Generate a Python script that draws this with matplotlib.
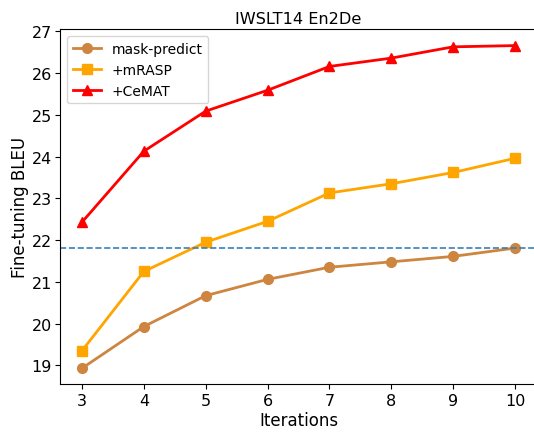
import matplotlib
matplotlib.use("Agg")
import matplotlib.pyplot as plt

# values
iterations = [3, 4, 5, 6, 7, 8, 9, 10]
mask_predict = [18.93, 19.93, 20.67, 21.06, 21.35, 21.48, 21.61, 21.81]
mrasp = [19.35, 21.25, 21.95, 22.45, 23.13, 23.35, 23.62, 23.96]
cemat = [22.43, 24.13, 25.09, 25.59, 26.16, 26.36, 26.63, 26.66]
baseline = 21.81

fig = plt.figure(figsize=(5.34, 4.35), dpi=100)
ax = fig.add_axes([0.113, 0.114, 0.892, 0.816])

ax.plot(iterations, mask_predict, color="peru", marker="o", lw=2, ms=7, label="mask-predict")
ax.plot(iterations, mrasp, color="orange", marker="s", lw=2, ms=7, label="+mRASP")
ax.plot(iterations, cemat, color="red", marker="^", lw=2, ms=7, label="+CeMAT")
ax.axhline(baseline, color="#3a7fb8", ls="--", lw=1.2)

ax.set_title("IWSLT14 En2De", fontsize=11.6, pad=5)
ax.set_xlabel("Iterations", fontsize=12, labelpad=2)
ax.set_ylabel("Fine-tuning BLEU", fontsize=12, labelpad=2)
ax.set_yticks([19, 20, 21, 22, 23, 24, 25, 26, 27])
ax.set_xticks(iterations)
ax.tick_params(labelsize=11.5, pad=2.5)
ax.legend(loc="upper left", fontsize=10)

fig.savefig("out.png", dpi=100)
